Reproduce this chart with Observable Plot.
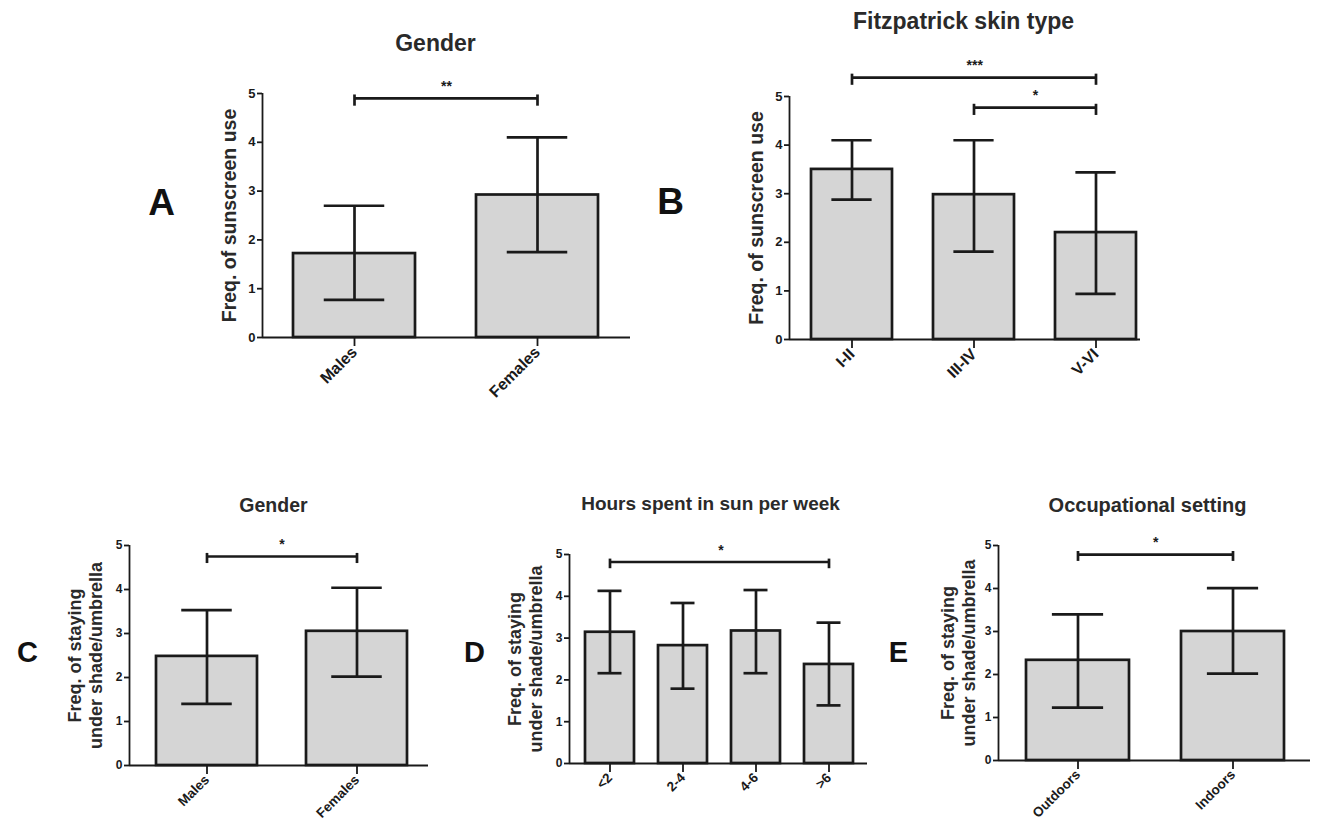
<!DOCTYPE html>
<html><head><meta charset="utf-8">
<script src="https://cdn.jsdelivr.net/npm/d3@7"></script>
<script src="https://cdn.jsdelivr.net/npm/@observablehq/plot@0.6"></script>
<style>
html,body{margin:0;padding:0;background:#fff;}
#wrap{position:relative;width:1318px;height:835px;overflow:hidden;background:#fff;}
#wrap svg{position:absolute;left:0;top:0;}
</style></head><body><div id="wrap"></div>
<script>
// ---------- data ----------
const yTicks = [0, 1, 2, 3, 4, 5];

// A: frequency of sunscreen use by gender
const genderCategories = ["Males", "Females"];
const sunscreenGenderMeans = [1.72, 2.92];
const sunscreenGenderUpper = [2.70, 4.10];
const sunscreenGenderLower = [0.77, 1.75];
const sunscreenGenderBrackets = [{from: "Males", to: "Females", y: 4.9, label: "**"}];

// B: frequency of sunscreen use by Fitzpatrick skin type
const skinTypeCategories = ["I-II", "III-IV", "V-VI"];
const sunscreenSkinMeans = [3.50, 2.98, 2.20];
const sunscreenSkinUpper = [4.10, 4.10, 3.44];
const sunscreenSkinLower = [2.88, 1.81, 0.94];
const sunscreenSkinBrackets = [
  {from: "I-II", to: "V-VI", y: 5.39, label: "***"},
  {from: "III-IV", to: "V-VI", y: 4.77, label: "*"}
];

// C: staying under shade by gender
const shadeGenderMeans = [2.48, 3.05];
const shadeGenderUpper = [3.53, 4.04];
const shadeGenderLower = [1.40, 2.02];
const shadeGenderBrackets = [{from: "Males", to: "Females", y: 4.75, label: "*"}];

// D: staying under shade by hours spent in sun per week
const sunHoursCategories = ["<2", "2-4", "4-6", ">6"];
const shadeHoursMeans = [3.14, 2.82, 3.17, 2.37];
const shadeHoursUpper = [4.13, 3.84, 4.15, 3.37];
const shadeHoursLower = [2.16, 1.79, 2.16, 1.39];
const shadeHoursBrackets = [{from: "<2", to: ">6", y: 4.82, label: "*"}];

// E: staying under shade by occupational setting
const occupationCategories = ["Outdoors", "Indoors"];
const shadeOccupationMeans = [2.33, 3.00];
const shadeOccupationUpper = [3.40, 4.01];
const shadeOccupationLower = [1.23, 2.02];
const shadeOccupationBrackets = [{from: "Outdoors", to: "Indoors", y: 4.79, label: "*"}];

// ---------- drawing ----------
const W = 1318, H = 835;
const FONT = "'Liberation Sans', Arial, Helvetica, sans-serif";
const INK = "#1a1a1a";

function panel(o) {
  const rows = o.categories.map((c, i) => ({c, m: o.means[i], hi: o.upper[i], lo: o.lower[i]}));
  const n = o.categories.length;
  const step = (o.band[1] - o.band[0]) / (n - o.pad);
  const bw = step * (1 - o.pad);
  const [fl, fr, ft, fb] = o.frame;
  const ml = fl, mr = W - fr, mt = ft, mb = H - fb;
  const at = (x, y) => ({frameAnchor: "top-left", dx: x - ml, dy: y - mt});
  const ends = o.brackets.flatMap(b => [{c: b.from, y: b.y}, {c: b.to, y: b.y}]);
  const idx = c => o.categories.indexOf(c);
  const ebW = 2.7;
  const svg = Plot.plot({
    width: W, height: H,
    marginLeft: ml, marginRight: mr, marginTop: mt, marginBottom: mb,
    style: {background: "transparent", fontFamily: FONT, overflow: "visible", color: INK},
    x: {type: "band", domain: o.categories, range: o.band, paddingInner: o.pad, paddingOuter: 0},
    y: {domain: [0, 5]},
    marks: [
      Plot.barY(rows, {x: "c", y: "m", fill: "#d5d5d5", stroke: INK, strokeWidth: ebW}),
      Plot.ruleX(rows, {x: "c", y1: "lo", y2: "hi", stroke: INK, strokeWidth: ebW}),
      Plot.tickY(rows, {x: "c", y: "hi", stroke: INK, strokeWidth: ebW, insetLeft: bw / 4, insetRight: bw / 4}),
      Plot.tickY(rows, {x: "c", y: "lo", stroke: INK, strokeWidth: ebW, insetLeft: bw / 4, insetRight: bw / 4}),
      // x axis line at y = 0
      Plot.ruleY([0], {stroke: INK, strokeWidth: 1.8}),
      // y axis line along the left edge of the frame
      Plot.ruleX([0], {x: null, y1: yTicks[0], y2: yTicks[yTicks.length - 1], dx: -(fr - fl) / 2,
        stroke: INK, strokeWidth: 1.8}),
      Plot.axisY({ticks: yTicks, tickSize: 5, tickPadding: 2, tickFormat: d => String(d),
        label: null, fontSize: o.yTickSize, fontWeight: "bold", color: INK, strokeWidth: 1.8}),
      Plot.axisX({tickSize: 9, tickPadding: 3, tickRotate: -45, label: null,
        fontSize: o.xTickSize, fontWeight: "bold", color: INK, strokeWidth: 1.8}),
      Plot.link(o.brackets, {x1: "from", x2: "to", y1: "y", y2: "y", stroke: INK, strokeWidth: ebW}),
      Plot.ruleX(ends, {x: "c", y1: d => d.y - 0.16, y2: d => d.y + 0.07, stroke: INK, strokeWidth: ebW}),
      ...o.brackets.map(b => Plot.text([b], {x: "from", y: "y", text: "label",
        dx: (idx(b.to) - idx(b.from)) * step / 2, dy: -12, fontSize: 14, fontWeight: "bold", fill: INK})),
      Plot.text([o.title], {...at(o.titlePos[0], o.titlePos[1]), textAnchor: "middle", lineAnchor: "middle",
        fontSize: o.titleSize, fontWeight: "bold", fill: "#2a2a2a"}),
      Plot.text([o.ylabel], {...at(o.ylabelPos[0], (ft + fb) / 2), rotate: -90, textAnchor: "middle",
        lineAnchor: "middle", lineHeight: 1.2, fontSize: o.ylabelSize, fontWeight: "bold", fill: "#2a2a2a"}),
      Plot.text([o.letter], {...at(o.letterPos[0], o.letterPos[1]), textAnchor: "middle", lineAnchor: "middle",
        fontSize: o.letterSize, fontWeight: "bold", fill: "#111"})
    ]
  });
  document.getElementById("wrap").appendChild(svg);
}

panel({
  categories: genderCategories, means: sunscreenGenderMeans, upper: sunscreenGenderUpper, lower: sunscreenGenderLower,
  brackets: sunscreenGenderBrackets, title: "Gender", ylabel: "Freq. of sunscreen use", letter: "A",
  frame: [262, 630, 93, 337], band: [292, 599], pad: 0.3315,
  titlePos: [435, 43], titleSize: 23, ylabelPos: [228], ylabelSize: 19.5, letterPos: [161, 203], letterSize: 37,
  yTickSize: 13, xTickSize: 16
});
panel({
  categories: skinTypeCategories, means: sunscreenSkinMeans, upper: sunscreenSkinUpper, lower: sunscreenSkinLower,
  brackets: sunscreenSkinBrackets, title: "Fitzpatrick skin type", ylabel: "Freq. of sunscreen use", letter: "B",
  frame: [789, 1140, 96, 339], band: [810, 1137], pad: 0.336,
  titlePos: [963, 21], titleSize: 23, ylabelPos: [755], ylabelSize: 19.5, letterPos: [670, 202], letterSize: 37,
  yTickSize: 13, xTickSize: 16
});
panel({
  categories: genderCategories, means: shadeGenderMeans, upper: shadeGenderUpper, lower: shadeGenderLower,
  brackets: shadeGenderBrackets, title: "Gender", ylabel: "Freq. of staying\nunder shade/umbrella", letter: "C",
  frame: [129, 428, 545, 765], band: [156, 407], pad: 0.327,
  titlePos: [273, 505], titleSize: 19.5, ylabelPos: [84], ylabelSize: 18, letterPos: [27, 652], letterSize: 29,
  yTickSize: 12, xTickSize: 13.5
});
panel({
  categories: sunHoursCategories, means: shadeHoursMeans, upper: shadeHoursUpper, lower: shadeHoursLower,
  brackets: shadeHoursBrackets, title: "Hours spent in sun per week", ylabel: "Freq. of staying\nunder shade/umbrella", letter: "D",
  frame: [569, 867, 554, 763], band: [583, 855], pad: 0.324,
  titlePos: [710, 503], titleSize: 19, ylabelPos: [524], ylabelSize: 18, letterPos: [474, 652], letterSize: 29,
  yTickSize: 12, xTickSize: 13.5
});
panel({
  categories: occupationCategories, means: shadeOccupationMeans, upper: shadeOccupationUpper, lower: shadeOccupationLower,
  brackets: shadeOccupationBrackets, title: "Occupational setting", ylabel: "Freq. of staying\nunder shade/umbrella", letter: "E",
  frame: [998, 1310, 545, 760], band: [1026, 1285], pad: 0.334,
  titlePos: [1147, 505], titleSize: 20, ylabelPos: [957], ylabelSize: 18, letterPos: [898, 652], letterSize: 29,
  yTickSize: 12, xTickSize: 13.5
});
</script>
</body></html>
